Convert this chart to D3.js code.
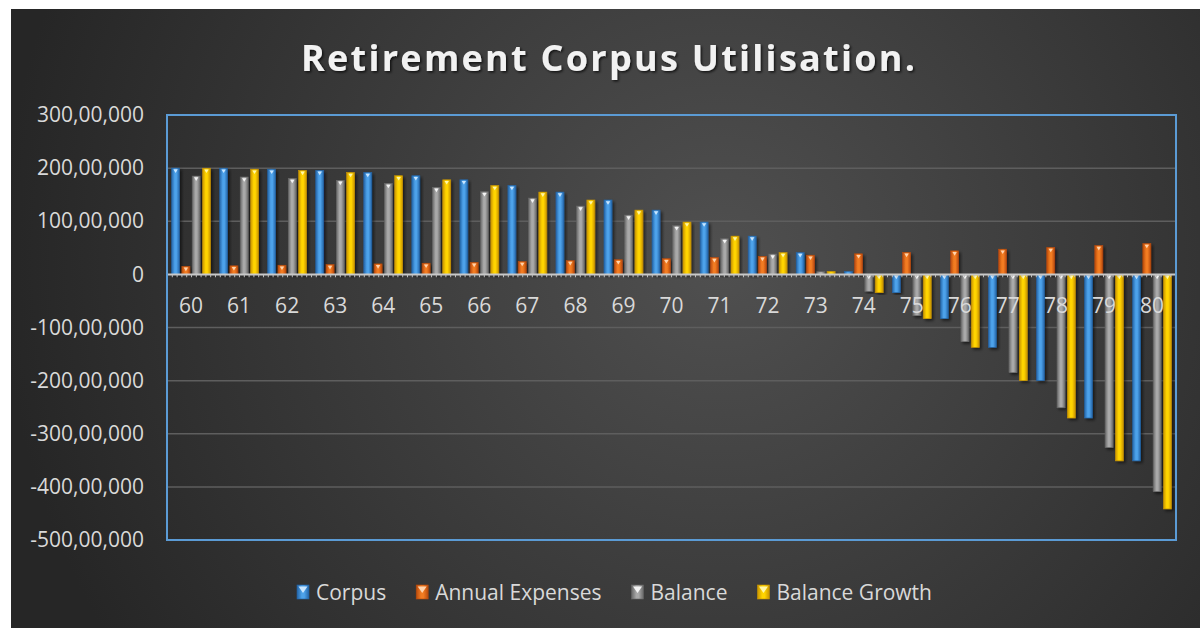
<!DOCTYPE html>
<html>
<head>
<meta charset="utf-8">
<title>Retirement Corpus Utilisation.</title>
<script src="https://cdn.jsdelivr.net/npm/d3@7"></script>
<style>
  body { margin: 0; background: #fff; }
  svg { display: block; font-family: "Open Sans", sans-serif; }
</style>
</head>
<body>
<svg id="chart" width="1200" height="628"></svg>
<script>
// ages on the x axis
var ages = [60, 61, 62, 63, 64, 65, 66, 67, 68, 69, 70, 71, 72, 73, 74, 75, 76, 77, 78, 79, 80];

// values (rupees)
var corpus = [20000000, 19980000, 19800000, 19570000, 19190000, 18570000, 17800000, 16740000, 15490000, 14000000,
  12100000, 9850000, 7200000, 4100000, 560000, -3450000, -8340000, -13730000, -20000000, -27030000, -35100000];
var expenses = [1500000, 1610000, 1720000, 1840000, 1970000, 2100000, 2250000, 2410000, 2580000, 2760000,
  2950000, 3160000, 3380000, 3610000, 3870000, 4140000, 4430000, 4740000, 5070000, 5420000, 5800000];
var balance = [18500000, 18330000, 18060000, 17690000, 17120000, 16370000, 15560000, 14360000, 12850000, 11160000,
  9160000, 6710000, 3820000, 500000, -3200000, -7780000, -12670000, -18500000, -25100000, -32600000, -40900000];
var balanceGrowth = [19980000, 19800000, 19570000, 19190000, 18570000, 17800000, 16740000, 15490000, 14000000, 12100000,
  9850000, 7200000, 4100000, 560000, -3450000, -8340000, -13730000, -20000000, -27030000, -35100000, -44150000];

var seriesNames = ["Corpus", "Annual Expenses", "Balance", "Balance Growth"];
var yTicks = [30000000, 20000000, 10000000, 0, -10000000, -20000000, -30000000, -40000000, -50000000];

(function(){
  var svg = d3.select("#chart");
  var L = 167, R = 1176, T = 115, B = 540;

  var colors = [
    {edge: "#2465a8", mid: "#4da2ea", tip: "#c9e6ff"},
    {edge: "#b94a0c", mid: "#f27c22", tip: "#ffd3ad"},
    {edge: "#686868", mid: "#a9a9a9", tip: "#f4f4f4"},
    {edge: "#c99400", mid: "#ffd400", tip: "#fff7a8"}
  ];
  var allSeries = [corpus, expenses, balance, balanceGrowth];

  var defs = svg.append("defs");
  var bg = defs.append("radialGradient").attr("id", "bg")
    .attr("gradientUnits", "userSpaceOnUse")
    .attr("cx", 720).attr("cy", 260).attr("r", 720);
  bg.append("stop").attr("offset", 0).attr("stop-color", "#505050");
  bg.append("stop").attr("offset", 1).attr("stop-color", "#262626");

  colors.forEach(function(c, i){
    var g = defs.append("linearGradient").attr("id", "bar" + i)
      .attr("x1", 0).attr("x2", 1).attr("y1", 0).attr("y2", 0);
    g.append("stop").attr("offset", 0).attr("stop-color", c.edge);
    g.append("stop").attr("offset", 0.4).attr("stop-color", c.mid);
    g.append("stop").attr("offset", 0.6).attr("stop-color", c.mid);
    g.append("stop").attr("offset", 1).attr("stop-color", c.edge);
  });

  var sh = defs.append("filter").attr("id", "shadow")
    .attr("x", "-50%").attr("y", "-10%").attr("width", "200%").attr("height", "120%");
  sh.append("feDropShadow").attr("dx", 2).attr("dy", 2).attr("stdDeviation", 1.5)
    .attr("flood-color", "#000").attr("flood-opacity", 0.55);

  var tsh = defs.append("filter").attr("id", "tshadow");
  tsh.append("feDropShadow").attr("dx", 1.5).attr("dy", 1.5).attr("stdDeviation", 1.2)
    .attr("flood-color", "#000").attr("flood-opacity", 0.7);

  svg.append("rect").attr("x", 11).attr("y", 9).attr("width", 1189).attr("height", 619)
    .attr("fill", "url(#bg)");

  // title
  svg.append("text")
    .attr("x", 608).attr("y", 71)
    .attr("text-anchor", "middle")
    .attr("textLength", 614).attr("lengthAdjust", "spacing")
    .style("font-size", "36px").style("font-weight", "bold")
    .style("fill", "#f2f2f2").attr("filter", "url(#tshadow)")
    .text("Retirement Corpus Utilisation.");

  var x = d3.scaleBand().domain(ages).range([L, R]).padding(0);
  var xs = d3.scaleBand().domain(d3.range(4)).range([0, x.bandwidth()])
    .paddingInner(0.223).paddingOuter(0.444);
  var y = d3.scaleLinear().domain([-50000000, 30000000]).range([B, T]);

  // gridlines
  svg.append("g").selectAll("line")
    .data(yTicks.filter(function(t){ return t !== 30000000 && t !== -50000000 && t !== 0; }))
    .enter().append("line")
    .attr("x1", L).attr("x2", R)
    .attr("y1", function(d){ return y(d); }).attr("y2", function(d){ return y(d); })
    .attr("stroke", "#5e5e5e").attr("stroke-width", 1.5);

  var fmt = function(v){
    if (v === 0) return "0";
    var s = String(Math.abs(v));
    var out = s.slice(0, -5) + "," + s.slice(-5, -3) + "," + s.slice(-3);
    return (v < 0 ? "-" : "") + out;
  };

  var yAxis = svg.append("g").attr("transform", "translate(" + L + ",0)")
    .call(d3.axisLeft(y).tickValues(yTicks).tickFormat(fmt).tickSize(0).tickPadding(23));
  yAxis.select(".domain").remove();
  yAxis.selectAll("text").style("font-size", "21px").style("fill", "#d9d9d9")
    .style("font-family", "'Open Sans', sans-serif");

  // bars
  var groups = svg.append("g").selectAll("g")
    .data(ages).enter().append("g")
    .attr("transform", function(d){ return "translate(" + x(d) + ",0)"; });

  groups.each(function(age, gi){
    var g = d3.select(this);
    var data = allSeries.map(function(s, si){ return {si: si, v: s[gi]}; });
    var bars = g.selectAll("g.bar").data(data).enter().append("g").attr("class", "bar")
      .attr("filter", "url(#shadow)");
    bars.append("rect")
      .attr("x", function(d){ return xs(d.si); })
      .attr("width", xs.bandwidth())
      .attr("y", function(d){ return y(Math.max(d.v, 0)); })
      .attr("height", function(d){ return Math.abs(y(d.v) - y(0)); })
      .attr("fill", function(d){ return "url(#bar" + d.si + ")"; })
      .attr("stroke", function(d){ return colors[d.si].edge; })
      .attr("stroke-width", 0.6);
    bars.filter(function(d){ return Math.abs(y(d.v) - y(0)) > 4; })
      .append("path")
      .attr("d", function(d){
        var x0 = xs(d.si), w = xs.bandwidth(), t = y(Math.max(d.v, 0));
        return "M" + (x0 + 1.8) + "," + (t + 1.2) + "L" + (x0 + w - 1.8) + "," + (t + 1.2) +
          "L" + (x0 + w / 2) + "," + (t + 4.8) + "Z";
      })
      .attr("fill", function(d){ return colors[d.si].tip; });
  });

  // zero axis
  var y0 = y(0);
  svg.append("line").attr("x1", L).attr("x2", R).attr("y1", y0).attr("y2", y0)
    .attr("stroke", "#c9c9c9").attr("stroke-width", 2);
  svg.append("line").attr("x1", L).attr("x2", R).attr("y1", y0 + 1.5).attr("y2", y0 + 1.5)
    .attr("stroke", "#bdbdbd").attr("stroke-width", 2.5).attr("stroke-dasharray", "1,3.8");

  var xAxis = svg.append("g").attr("transform", "translate(0," + y0 + ")")
    .call(d3.axisBottom(x).tickSize(0).tickPadding(24));
  xAxis.select(".domain").remove();
  xAxis.selectAll("text").style("font-size", "21px").style("fill", "#d9d9d9")
    .style("font-family", "'Open Sans', sans-serif");

  // plot border
  svg.append("rect").attr("x", L).attr("y", T).attr("width", R - L).attr("height", B - T)
    .attr("fill", "none").attr("stroke", "#5b9bd5").attr("stroke-width", 2);

  // legend
  var lg = svg.append("g");
  var lx = 297;
  seriesNames.forEach(function(name, i){
    var item = lg.append("g");
    item.append("rect").attr("x", lx).attr("y", 585).attr("width", 12).attr("height", 14)
      .attr("fill", "url(#bar" + i + ")").attr("stroke", colors[i].edge).attr("stroke-width", 0.6);
    item.append("path")
      .attr("d", "M" + (lx + 1.5) + ",586.5L" + (lx + 10.5) + ",586.5L" + (lx + 6) + ",593Z")
      .attr("fill", colors[i].tip);
    var t = item.append("text").attr("x", lx + 19).attr("y", 599.5)
      .style("font-size", "21px").style("fill", "#d9d9d9").text(name);
    lx += 19 + t.node().getComputedTextLength() + 30;
  });
})();
</script>
</body>
</html>
